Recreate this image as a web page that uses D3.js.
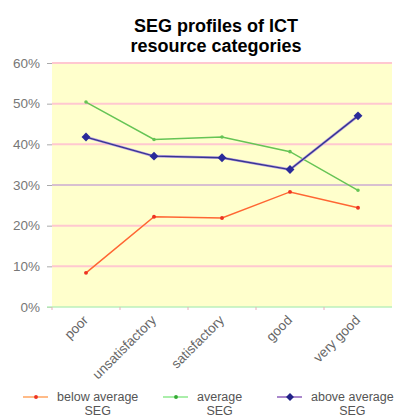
<!DOCTYPE html>
<html>
<head>
<meta charset="utf-8">
<script src="https://cdn.jsdelivr.net/npm/d3@7"></script>
<style>
  body { margin: 0; background: #fff; }
  text { font-family: 'Liberation Sans', Arial, sans-serif; }
</style>
</head>
<body>
<div id="chart"></div>
<script>
// data (percent)
var categories = ['poor', 'unsatisfactory', 'satisfactory', 'good', 'very good']
var belowAverage = [8.4, 22.2, 21.9, 28.3, 24.4]
var average = [50.4, 41.2, 41.8, 38.2, 28.7]
var aboveAverage = [41.8, 37.1, 36.7, 33.8, 47.0]
var yTicks = [0, 10, 20, 30, 40, 50, 60]
var seriesNames = ['below average SEG', 'average SEG', 'above average SEG']

var width = 401
var height = 418
var margin = { top: 63, right: 9, bottom: 111, left: 52 }

var svg = d3
  .select('#chart')
  .append('svg')
  .attr('width', width)
  .attr('height', height)

var x = d3
  .scaleBand()
  .domain(categories)
  .range([margin.left, width - margin.right])
var y = d3
  .scaleLinear()
  .domain([0, 60])
  .range([height - margin.bottom, margin.top])

// title
svg
  .append('text')
  .attr('x', 216)
  .attr('y', 32)
  .attr('text-anchor', 'middle')
  .attr('font-size', 18)
  .attr('font-weight', 'bold')
  .text('SEG profiles of ICT')
svg
  .append('text')
  .attr('x', 216)
  .attr('y', 52)
  .attr('text-anchor', 'middle')
  .attr('font-size', 18)
  .attr('font-weight', 'bold')
  .text('resource categories')

// plot background
svg
  .append('rect')
  .attr('x', margin.left)
  .attr('y', y(60))
  .attr('width', width - margin.right - margin.left)
  .attr('height', y(0) - y(60))
  .attr('fill', '#ffffcc')

// gridlines
svg
  .append('g')
  .selectAll('line')
  .data(yTicks.filter((d) => d > 0))
  .join('line')
  .attr('x1', margin.left)
  .attr('x2', width - margin.right)
  .attr('y1', (d) => y(d))
  .attr('y2', (d) => y(d))
  .attr('stroke', (d) => (d == 30 ? '#d8c0d0' : '#ffc8d0'))
  .attr('stroke-width', 2)

// y axis
var yAxis = svg
  .append('g')
  .attr('transform', 'translate(' + margin.left + ',0)')
  .call(
    d3
      .axisLeft(y)
      .tickValues(yTicks)
      .tickFormat((d) => d + '%')
      .tickSize(5)
      .tickPadding(7)
  )
yAxis.select('.domain').remove()
yAxis.selectAll('line').attr('stroke', '#aaaaaa')
yAxis
  .selectAll('text')
  .attr('font-size', 13.5)
  .attr('fill', '#777777')
  .style('font-family', "'Liberation Sans', Arial, sans-serif")

// x axis line
svg
  .append('line')
  .attr('x1', margin.left - 5)
  .attr('x2', width - margin.right)
  .attr('y1', y(0))
  .attr('y2', y(0))
  .attr('stroke', '#bbf0bb')
  .attr('stroke-width', 1.5)

svg
  .append('g')
  .selectAll('line')
  .data(categories)
  .join('line')
  .attr('x1', (d) => x(d))
  .attr('x2', (d) => x(d))
  .attr('y1', y(0))
  .attr('y2', y(0) + 3)
  .attr('stroke', '#e8b0b8')

svg
  .append('g')
  .selectAll('text')
  .data(categories)
  .join('text')
  .attr(
    'transform',
    (d) => 'translate(' + (x(d) + x.bandwidth() / 2 + 3) + ',' + (y(0) + 14) + ') rotate(-45)'
  )
  .attr('text-anchor', 'end')
  .attr('font-size', 13.5)
  .attr('fill', '#666666')
  .text((d) => d)

// series
var series = [
  { name: seriesNames[0], values: belowAverage, color: '#ff6633', legend: '#ffbb88', marker: 'circle', size: 12 },
  { name: seriesNames[1], values: average, color: '#66c455', legend: '#aaeeaa', marker: 'circle', size: 10 },
  { name: seriesNames[2], values: aboveAverage, color: '#363590', legend: '#aa88cc', marker: 'diamond', size: 50 }
]

var line = d3
  .line()
  .x((d, i) => x(categories[i]) + x.bandwidth() / 2)
  .y((d) => y(d))

series.forEach(function (s) {
  if (s.marker == 'diamond') {
    svg
      .append('path')
      .attr('d', line(s.values))
      .attr('fill', 'none')
      .attr('stroke', '#b8a0e0')
      .attr('stroke-width', 2.6)
  }
  svg
    .append('path')
    .attr('d', line(s.values))
    .attr('fill', 'none')
    .attr('stroke', s.color)
    .attr('stroke-width', s.marker == 'diamond' ? 1.3 : 1.5)

  svg
    .append('g')
    .selectAll('path')
    .data(s.values)
    .join('path')
    .attr(
      'transform',
      (d, i) => 'translate(' + (x(categories[i]) + x.bandwidth() / 2) + ',' + y(d) + ')'
    )
    .attr(
      'd',
      d3.symbol().type(s.marker == 'diamond' ? d3.symbolDiamond2 : d3.symbolCircle).size(s.size)
    )
    .attr('fill', s.marker == 'circle' && s.color == '#ff6633' ? '#ee3322' : s.marker == 'diamond' ? '#2a2a99' : s.color)
})

// legend
var legendX = [23, 163, 277]
var legend = svg
  .append('g')
  .selectAll('g')
  .data(series)
  .join('g')
  .attr('transform', (d, i) => 'translate(' + legendX[i] + ',397)')

legend
  .append('line')
  .attr('x1', 0)
  .attr('x2', 25)
  .attr('stroke', (d) => d.legend)
  .attr('stroke-width', 2)
legend
  .append('path')
  .attr('transform', 'translate(13,0)')
  .attr('d', (d) =>
    d3.symbol().type(d.marker == 'diamond' ? d3.symbolDiamond2 : d3.symbolCircle).size(d.marker == 'diamond' ? 40 : 12)()
  )
  .attr('fill', (d) => (d.color == '#ff6633' ? '#ee3322' : d.color == '#66c455' ? '#33aa33' : '#222288'))

legend.each(function (d) {
  var words = d.name.split(' ')
  var first = words.slice(0, -1).join(' ')
  var g = d3.select(this)
  var t = g
    .append('text')
    .attr('x', 34)
    .attr('y', 4)
    .attr('font-size', 12.5)
    .attr('fill', '#555555')
    .text(first)
  var w = t.node().getComputedTextLength()
  g.append('text')
    .attr('x', 34 + w / 2)
    .attr('y', 18)
    .attr('text-anchor', 'middle')
    .attr('font-size', 12.5)
    .attr('fill', '#555555')
    .text(words[words.length - 1])
})
</script>
</body>
</html>
